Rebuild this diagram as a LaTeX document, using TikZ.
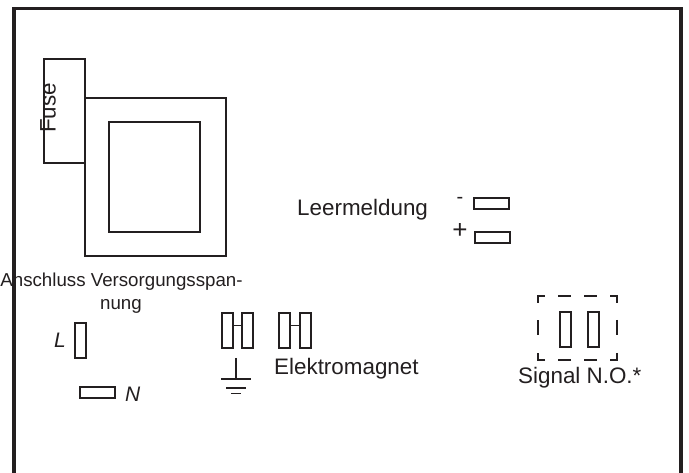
\documentclass[tikz,border=0pt]{standalone}
\usepackage{fontspec}
\setmainfont{Liberation Sans}
\definecolor{ink}{HTML}{231F20}
\tikzset{
  x=1pt,y=-1pt,
  box/.style={draw=ink,line width=1.3pt,minimum width=0,inner sep=0,outer sep=0},
  thinl/.style={draw=ink,line width=1.2pt},
  lbl/.style={text=ink,inner sep=0,font=\fontsize{#1}{#1}\selectfont},
  lbl/.default=22.4
}
\begin{document}
\begin{tikzpicture}
\useasboundingbox (0,0) rectangle (689,473);
\fill[white] (0,0) rectangle (689,473);
\draw[ink,line width=3.4pt] (14,473) -- (14,8.5) -- (681,8.5) -- (681,473);
\node[box,anchor=north west,minimum width=41pt,minimum height=104pt] (fuse) at (44,59) {};
\node[box,anchor=north west,minimum width=141pt,minimum height=158pt] (outer) at (85,98) {};
\node[box,anchor=north west,minimum width=91pt,minimum height=110pt] (inner) at (109,122) {};
\node[lbl,rotate=90] (fusetxt) at (48,108) {Fuse};
\node[lbl=18.7,anchor=center] (ans1) at (121.5,282) {Anschluss Versorgungsspan-};
\node[lbl=18.7,anchor=center] (ans2) at (121,306) {nung};
\node[box,anchor=north west,minimum width=11pt,minimum height=35pt] (L) at (75,323) {};
\node[lbl=21,anchor=east] (Ltxt) at (66,340) {\itshape L};
\node[box,anchor=north west,minimum width=35pt,minimum height=11pt] (N) at (80,387) {};
\node[lbl=21,anchor=west] (Ntxt) at (125,394) {\itshape N};
\node[box,anchor=north west,minimum width=11pt,minimum height=35pt] (m1) at (222,313) {};
\node[box,anchor=north west,minimum width=11pt,minimum height=35pt] (m2) at (242,313) {};
\draw[thinl] ([yshift=5pt]m1.east) -- ([yshift=5pt]m2.west);
\node[box,anchor=north west,minimum width=11pt,minimum height=35pt] (m3) at (279,313) {};
\node[box,anchor=north west,minimum width=11pt,minimum height=35pt] (m4) at (300,313) {};
\draw[thinl] ([yshift=5pt]m3.east) -- ([yshift=5pt]m4.west);
\coordinate (g0) at (236,358);
\coordinate (g1) at (236,379);
\draw[thinl] (g0) -- (g1);
\draw[thinl] (221,379) -- (251,379);
\draw[thinl] (226,388) -- (246,388);
\draw[thinl] (231,393.5) -- (241,393.5);
\node[lbl,anchor=base west] (em) at (274,375) {Elektromagnet};
\node[lbl,anchor=base west] (lm) at (297,216) {Leermeldung};
\node[lbl=20] (minus) at (460,200) {-};
\node[lbl=26] (plus) at (460,231) {+};
\node[box,anchor=north west,minimum width=35pt,minimum height=11pt] (p1) at (474,198) {};
\node[box,anchor=north west,minimum width=35pt,minimum height=11pt] (p2) at (475,232) {};
\draw[thinl] (538,303) -- (538,296) -- (545,296)
  (558,296) -- (571,296) (584,296) -- (597,296)
  (610,296) -- (617,296) -- (617,303)
  (617,320) -- (617,335)
  (617,353) -- (617,360) -- (610,360)
  (597,360) -- (584,360) (571,360) -- (558,360)
  (545,360) -- (538,360) -- (538,353)
  (538,335) -- (538,320);
\node[box,anchor=north west,minimum width=11pt,minimum height=35pt] (s1) at (560,312) {};
\node[box,anchor=north west,minimum width=11pt,minimum height=35pt] (s2) at (588,312) {};
\node[lbl,anchor=base west] (sig) at (518,384) {Signal N.O.*};
\end{tikzpicture}
\end{document}
